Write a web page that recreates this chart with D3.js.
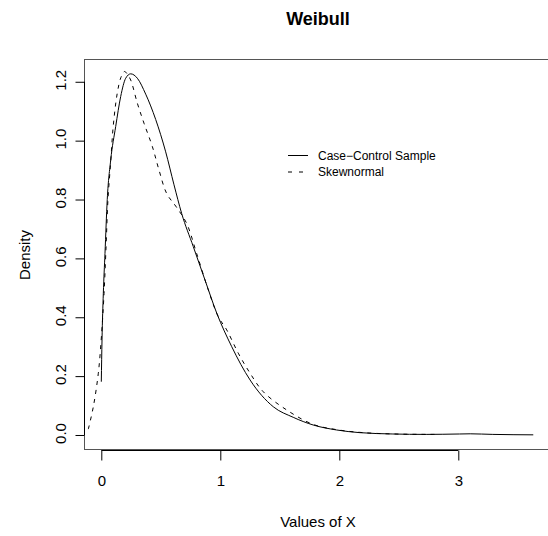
<!DOCTYPE html>
<html>
<head>
<meta charset="utf-8">
<script src="https://cdn.jsdelivr.net/npm/d3@7"></script>
<style>
  body { margin: 0; background: #fff; }
  svg { display: block; font-family: "Liberation Sans", Arial, Helvetica, sans-serif; }
  .curve { fill: none; stroke: #000; stroke-width: 1; }
</style>
</head>
<body>
<svg id="chart" width="548" height="536"></svg>
<script>
// Case-Control Sample (solid line)
var sampleX = [0, 0.006, 0.017, 0.031, 0.05, 0.079, 0.121, 0.163, 0.205, 0.247, 0.303, 0.373, 0.457,
               0.541, 0.611, 0.675, 0.773, 0.871, 0.970, 1.096, 1.250, 1.445, 1.613, 1.78, 1.978,
               2.17, 2.45, 2.73, 3.01, 3.1, 3.29, 3.63];
var sampleY = [0.181, 0.323, 0.481, 0.617, 0.80, 0.934, 1.048, 1.150, 1.212, 1.227, 1.212, 1.158, 1.072,
               0.962, 0.850, 0.753, 0.640, 0.527, 0.414, 0.300, 0.187, 0.096, 0.060, 0.034, 0.017,
               0.008, 0.0034, 0.002, 0.0034, 0.004, 0.002, 0.0005];

// Skewnormal (dashed line)
var skewX = [-0.109, -0.067, -0.025, 0.003, 0.023, 0.04, 0.056, 0.08, 0.1, 0.134, 0.165, 0.195, 0.215,
             0.247, 0.303, 0.359, 0.429, 0.485, 0.55, 0.63, 0.717, 0.801, 0.899, 0.983, 1.054,
             1.151, 1.25, 1.361, 1.558, 1.78, 1.98, 2.2, 2.5, 2.8];
var skewY = [0.02, 0.096, 0.210, 0.346, 0.481, 0.640, 0.80, 0.934, 1.048, 1.161, 1.215, 1.235, 1.228,
             1.206, 1.127, 1.059, 0.980, 0.900, 0.820, 0.775, 0.719, 0.617, 0.493, 0.402, 0.357,
             0.278, 0.210, 0.147, 0.085, 0.036, 0.018, 0.008, 0.003, 0.002];

var xTicks = [0, 1, 2, 3];
var yTicks = [0.0, 0.2, 0.4, 0.6, 0.8, 1.0, 1.2];
var legendLabels = ["Case\u2212Control Sample", "Skewnormal"];

var plot = {left: 84, right: 551, top: 60, bottom: 450};

var xScale = d3.scaleLinear()
               .domain([-0.1454, 3.779])
               .range([plot.left, plot.right]),
    yScale = d3.scaleLinear()
               .domain([-0.051, 1.274])
               .range([plot.bottom, plot.top]);

var svg = d3.select("#chart");

// plot frame
svg.append("rect")
  .attr("x", plot.left + 0.5)
  .attr("y", plot.top - 0.5)
  .attr("width", plot.right - plot.left)
  .attr("height", plot.bottom - plot.top)
  .attr("fill", "none")
  .attr("stroke", "#555");

var xAxis = d3.axisBottom(xScale)
              .tickValues(xTicks)
              .tickSize(10)
              .tickPadding(15)
              .tickFormat(d3.format("d")),
    yAxis = d3.axisLeft(yScale)
              .tickValues(yTicks)
              .tickSize(9)
              .tickFormat(d3.format(".1f"));

var gx = svg.append("g")
  .attr("class", "axis axis-x")
  .attr("transform", "translate(0," + (plot.bottom + 0.5) + ")")
  .call(xAxis);
gx.select(".domain")
  .attr("d", "M" + xScale(xTicks[0]) + ",0H" + xScale(xTicks[xTicks.length - 1]));
gx.selectAll("text")
  .attr("font-size", 15)
  .attr("font-family", null)
  .attr("fill", "#000");

var gy = svg.append("g")
  .attr("class", "axis axis-y")
  .attr("transform", "translate(" + (plot.left + 0.5) + ",0)")
  .call(yAxis);
gy.select(".domain")
  .attr("d", "M0," + yScale(yTicks[0]) + "V" + yScale(yTicks[yTicks.length - 1]));
gy.selectAll("text")
  .attr("font-size", 15)
  .attr("font-family", null)
  .attr("fill", "#000")
  .attr("x", null)
  .attr("dy", null)
  .attr("text-anchor", "middle")
  .attr("transform", "translate(-18.5,-2) rotate(-90)");

svg.selectAll(".axis path, .axis line").attr("stroke", "#000");

// curves
var sample = sampleX.map(function(d, i){ return {x: d, y: sampleY[i]}; });
var skew = skewX.map(function(d, i){ return {x: d, y: skewY[i]}; });

var line = d3.line()
  .x(function(d){ return xScale(d.x); })
  .y(function(d){ return yScale(d.y); });

svg.append("path")
  .datum(skew)
  .attr("class", "curve")
  .attr("stroke-dasharray", "4,5")
  .attr("d", line.curve(d3.curveCatmullRom.alpha(0.5)));

svg.append("path")
  .datum(sample)
  .attr("class", "curve")
  .attr("d", line.curve(d3.curveMonotoneX));

// titles
svg.append("text")
  .attr("x", 318)
  .attr("y", 25)
  .attr("text-anchor", "middle")
  .attr("font-size", 18)
  .attr("font-weight", "bold")
  .text("Weibull");

svg.append("text")
  .attr("x", 318)
  .attr("y", 527)
  .attr("text-anchor", "middle")
  .attr("font-size", 15)
  .text("Values of X");

svg.append("text")
  .attr("transform", "translate(29.5," + ((plot.top + plot.bottom) / 2) + ") rotate(-90)")
  .attr("text-anchor", "middle")
  .attr("font-size", 15)
  .text("Density");

// legend
var legend = svg.append("g")
  .attr("transform", "translate(288,155)");

legend.selectAll("line")
  .data(legendLabels).enter()
  .append("line")
    .attr("x1", 0)
    .attr("x2", 20)
    .attr("y1", function(d, i){ return i * 16.5 + 0.5; })
    .attr("y2", function(d, i){ return i * 16.5 + 0.5; })
    .attr("stroke", "#000")
    .attr("stroke-dasharray", function(d, i){ return i ? "4,7" : null; });

legend.selectAll("text")
  .data(legendLabels).enter()
  .append("text")
    .attr("x", 30)
    .attr("y", function(d, i){ return i * 16 + 4.5; })
    .attr("font-size", 12)
    .text(function(d){ return d; });
</script>
</body>
</html>
